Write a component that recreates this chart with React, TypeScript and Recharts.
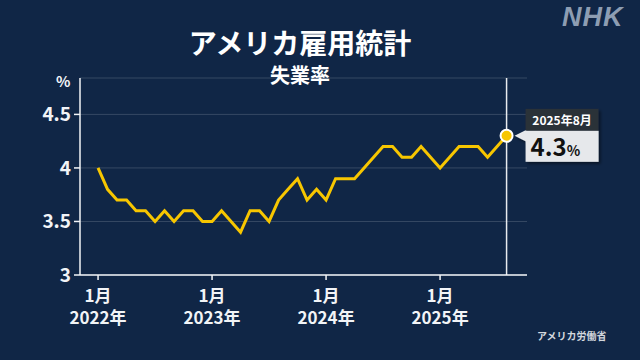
import { LineChart, Line, XAxis, YAxis, CartesianGrid, ReferenceLine } from 'recharts';

// Unemployment rate (%), monthly, Jan 2022 – Aug 2025
const YEARS = ['2022', '2023', '2024', '2025'];
const RATE_2022 = [4.0, 3.8, 3.7, 3.7, 3.6, 3.6, 3.5, 3.6, 3.5, 3.6, 3.6, 3.5];
const RATE_2023 = [3.5, 3.6, 3.5, 3.4, 3.6, 3.6, 3.5, 3.7, 3.8, 3.9, 3.7, 3.8];
const RATE_2024 = [3.7, 3.9, 3.9, 3.9, 4.0, 4.1, 4.2, 4.2, 4.1, 4.1, 4.2, 4.1];
const RATE_2025 = [4.0, 4.1, 4.2, 4.2, 4.2, 4.1, 4.2, 4.3];
const Y_TICKS = [3, 3.5, 4, 4.5];

const BG = '#102646';
const YELLOW = '#f7c600';
const FONT = '"Noto Sans CJK JP", "Noto Sans", sans-serif';

const data = [RATE_2022, RATE_2023, RATE_2024, RATE_2025].flatMap((rates, yi) =>
  rates.map((rate, mi) => ({ year: YEARS[yi], month: mi + 1, rate })),
).map((d, i) => ({ ...d, i }));

const LAST = data.length - 1;
const X_TICKS = data.filter((d) => d.month === 1).map((d) => d.i);

function XTick({ x, y, payload }: any) {
  const d = data[payload.value];
  return (
    <g>
      <text x={x} y={y + 20} textAnchor="middle" fill="#f2f4f7" fontSize={17} fontWeight={700} fontFamily={FONT}>
        {d.month}月
      </text>
      <text x={x} y={y + 42} textAnchor="middle" fill="#f2f4f7" fontSize={17} fontWeight={700} fontFamily={FONT}>
        {d.year}年
      </text>
    </g>
  );
}

function LastDot(props: any) {
  const { cx, cy, index } = props;
  if (index !== LAST) return <g key={`d${index}`} />;
  const d = data[index];
  const bx = cx + 19;
  const top = cy - 27;
  return (
    <g key="last">
      <defs>
        <filter id="sh" x="-20%" y="-20%" width="140%" height="140%">
          <feDropShadow dx="2" dy="2" stdDeviation="1.5" floodColor="#000" floodOpacity="0.45" />
        </filter>
      </defs>
      <g filter="url(#sh)">
        <polygon points={`${cx + 8},${cy} ${bx + 1},${cy - 6} ${bx + 1},${cy + 6}`} fill="#e6e8eb" />
        <rect x={bx} y={top} width={73} height={22} fill="#2b3239" />
        <rect x={bx} y={top + 22} width={73} height={31} fill="#e6e8eb" />
      </g>
      <text x={bx + 36.5} y={top + 16} textAnchor="middle" fill="#fff" fontSize={12} fontWeight={700} fontFamily={FONT}>
        {d.year}年{d.month}月
      </text>
      <text x={bx + 5} y={top + 47} fill="#111" fontSize={24} fontWeight={700} fontFamily={FONT}>
        {d.rate.toFixed(1)}
        <tspan fontSize={14}>%</tspan>
      </text>
      <circle cx={cx} cy={cy} r={6} fill={YELLOW} stroke="#fff" strokeWidth={2} />
    </g>
  );
}

export default function App() {
  return (
    <div style={{ position: 'absolute', left: 0, top: 0, width: 640, height: 360, background: BG, fontFamily: FONT, overflow: 'hidden' }}>
      <div style={{ position: 'absolute', left: 0, width: 600, top: 22, textAlign: 'center', color: '#fff', fontSize: 28, fontWeight: 700, lineHeight: '40px' }}>
        アメリカ雇用統計
      </div>
      <div style={{ position: 'absolute', left: 0, width: 600, top: 61, textAlign: 'center', color: '#fff', fontSize: 20, fontWeight: 700, lineHeight: '28px' }}>
        失業率
      </div>
      <div style={{ position: 'absolute', left: 56, top: 70, color: '#f2f4f7', fontSize: 15, fontWeight: 700, lineHeight: '22px' }}>
        %
      </div>
      <div style={{ position: 'absolute', left: 562, top: 1, color: '#8d9db2', fontSize: 27, fontWeight: 700, fontStyle: 'italic', letterSpacing: 1, fontFamily: '"Liberation Sans", Arial, sans-serif', lineHeight: '32px' }}>
        NHK
      </div>
      <div style={{ position: 'absolute', left: 537, top: 328, color: '#d3d7dd', fontSize: 10, fontWeight: 700, lineHeight: '16px' }}>
        アメリカ労働省
      </div>

      <LineChart width={640} height={360} data={data} margin={{ top: 78, right: 113, bottom: 0, left: 0 }} style={{ position: 'absolute', left: 0, top: 0 }}>
        <CartesianGrid horizontal vertical={false} stroke="rgba(255,255,255,0.16)" />
        <XAxis
          type="number"
          dataKey="i"
          domain={[-1.9, 45.15]}
          ticks={X_TICKS}
          tick={<XTick />}
          stroke="#f2f4f7"
          strokeWidth={1.5}
          tickSize={5}
          height={85}
        />
        <YAxis
          type="number"
          domain={[3, 4.84]}
          ticks={Y_TICKS}
          width={80}
          stroke="#f2f4f7"
          strokeWidth={1.5}
          tickSize={6}
          tickMargin={3}
          tick={{ fill: '#f2f4f7', fontSize: 19, fontWeight: 700, fontFamily: FONT }}
        />
        <ReferenceLine x={LAST} stroke="#e8ebef" strokeWidth={1.5} />
        <Line
          type="linear"
          dataKey="rate"
          stroke={YELLOW}
          strokeWidth={3}
          dot={LastDot}
          activeDot={false}
          isAnimationActive={false}
        />
      </LineChart>
    </div>
  );
}
